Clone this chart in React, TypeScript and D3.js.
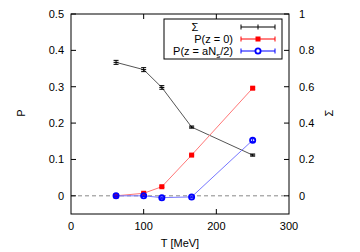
import React from "react";
import * as d3 from "d3";

const T = [62, 100, 125, 166, 250];
const sigma = [0.734, 0.694, 0.596, 0.378, 0.224];
const sigmaErr = [0.011, 0.011, 0.01, 0.006, 0.006];
const pz0 = [0.0, 0.007, 0.025, 0.112, 0.296];
const pz0Err = [0.001, 0.002, 0.002, 0.002, 0.003];
const pzN = [0.0, 0.0, -0.005, -0.003, 0.153];
const pzNErr = [0.002, 0.002, 0.002, 0.002, 0.004];
const xTicks = [0, 100, 200, 300];
const yTicks = [0, 0.1, 0.2, 0.3, 0.4, 0.5];
const y2Ticks = [0, 0.2, 0.4, 0.6, 0.8, 1];

const W = 360, H = 252;
const L = 71, R = 289, TOP = 14, B = 214;
const font = "Liberation Sans, Arial, sans-serif";

export default function App() {
  React.useEffect(() => { document.body.style.margin = "0"; }, []);
  const x = d3.scaleLinear().domain([0, 300]).range([L, R]);
  const y = d3.scaleLinear().domain([-0.05, 0.5]).range([B, TOP]);
  const y2 = d3.scaleLinear().domain([-0.1, 1]).range([B, TOP]);
  const line = d3.line<[number, number]>().x(d => d[0]).y(d => d[1]);

  const sigPts: [number, number][] = T.map((t, i) => [x(t), y2(sigma[i])]);
  const redPts: [number, number][] = T.map((t, i) => [x(t), y(pz0[i])]);
  const bluePts: [number, number][] = T.map((t, i) => [x(t), y(pzN[i])]);

  const errBar = (cx: number, ylo: number, yhi: number, color: string, key: string) => (
    <g key={key} stroke={color} strokeWidth={1}>
      <line x1={cx} x2={cx} y1={ylo} y2={yhi} />
      <line x1={cx - 2.5} x2={cx + 2.5} y1={ylo} y2={ylo} />
      <line x1={cx - 2.5} x2={cx + 2.5} y1={yhi} y2={yhi} />
    </g>
  );

  const legendRows = [
    { label: "Σ", color: "#000", y: 27, kind: "plus" },
    { label: "P(z = 0)", color: "#f00", y: 39, kind: "square" },
    { label: "P(z = aN", color: "#00f", y: 51, kind: "circle" },
  ];

  return (
    <svg width={W} height={H} style={{ display: "block", background: "#fff" }} fontFamily={font} fontSize={11}>
      {/* zero dashed line */}
      <line x1={L} x2={R} y1={y(0)} y2={y(0)} stroke="#888" strokeWidth={1} strokeDasharray="4,3" />

      {/* series lines */}
      <path d={line(sigPts) || ""} fill="none" stroke="#555" strokeWidth={1} />
      <path d={line(redPts) || ""} fill="none" stroke="#f77" strokeWidth={1} />
      <path d={line(bluePts) || ""} fill="none" stroke="#77f" strokeWidth={1} />

      {/* sigma points */}
      {T.map((t, i) => errBar(x(t), y2(sigma[i] - sigmaErr[i]), y2(sigma[i] + sigmaErr[i]), "#000", "s" + i))}
      {T.map((t, i) => (
        <line key={"sh" + i} x1={x(t) - 2.5} x2={x(t) + 2.5} y1={y2(sigma[i])} y2={y2(sigma[i])} stroke="#000" />
      ))}

      {/* red points */}
      {T.map((t, i) => errBar(x(t), y(pz0[i] - pz0Err[i]), y(pz0[i] + pz0Err[i]), "#f00", "r" + i))}
      {T.map((t, i) => (
        <rect key={"rs" + i} x={x(t) - 2.5} y={y(pz0[i]) - 2.5} width={5} height={5} fill="#f00" />
      ))}

      {/* blue points */}
      {T.map((t, i) => errBar(x(t), y(pzN[i] - pzNErr[i]), y(pzN[i] + pzNErr[i]), "#00f", "b" + i))}
      {T.map((t, i) => (
        <circle key={"bc" + i} cx={x(t)} cy={y(pzN[i])} r={2.6} fill="none" stroke="#00f" strokeWidth={1.8} />
      ))}

      {/* frame */}
      <rect x={L} y={TOP} width={R - L} height={B - TOP} fill="none" stroke="#000" strokeWidth={1} />

      {/* x ticks */}
      {xTicks.map(v => (
        <g key={"xt" + v}>
          {v > 0 && v < 300 && <line x1={x(v)} x2={x(v)} y1={B} y2={B - 5} stroke="#000" />}
          {v > 0 && v < 300 && <line x1={x(v)} x2={x(v)} y1={TOP} y2={TOP + 5} stroke="#000" />}
          <text x={x(v)} y={230} textAnchor="middle">{v}</text>
        </g>
      ))}
      {/* y ticks */}
      {yTicks.map(v => (
        <g key={"yt" + v}>
          <line x1={L} x2={L + 5} y1={y(v)} y2={y(v)} stroke="#000" />
          <text x={64} y={y(v) + 4} textAnchor="end">{v}</text>
        </g>
      ))}
      {y2Ticks.map(v => (
        <g key={"y2t" + v}>
          <line x1={R} x2={R - 5} y1={y2(v)} y2={y2(v)} stroke="#000" />
          <text x={299} y={y2(v) + 4} textAnchor="start">{v}</text>
        </g>
      ))}

      {/* axis labels */}
      <text transform="translate(25,113) rotate(-90)" textAnchor="middle">P</text>
      <text transform="translate(333,113) rotate(-90)" textAnchor="middle">Σ</text>
      <text x={180} y={247} textAnchor="middle">T [MeV]</text>

      {/* legend */}
      <rect x={164} y={19} width={118} height={40} fill="#fff" stroke="#000" strokeWidth={1} />
      {legendRows.map((r, i) => (
        <g key={"lg" + i}>
          {i === 0 ? (
            <text x={195} y={r.y + 4} textAnchor="middle">Σ</text>
          ) : i === 1 ? (
            <text x={233} y={r.y + 4} textAnchor="end">{r.label}</text>
          ) : (
            <text x={233} y={r.y + 4} textAnchor="end">
              P(z = aN<tspan fontSize={8} dy={3}>s</tspan><tspan dy={-3}>/2)</tspan>
            </text>
          )}
          <line x1={241} x2={275} y1={r.y} y2={r.y} stroke={r.color} />
          <line x1={241} x2={241} y1={r.y - 2.5} y2={r.y + 2.5} stroke={r.color} />
          <line x1={275} x2={275} y1={r.y - 2.5} y2={r.y + 2.5} stroke={r.color} />
          {r.kind === "plus" && <line x1={258} x2={258} y1={r.y - 2.5} y2={r.y + 2.5} stroke={r.color} />}
          {r.kind === "square" && <rect x={255.5} y={r.y - 2.5} width={5} height={5} fill={r.color} />}
          {r.kind === "circle" && <circle cx={258} cy={r.y} r={2.6} fill="#fff" stroke={r.color} strokeWidth={1.8} />}
        </g>
      ))}
    </svg>
  );
}
